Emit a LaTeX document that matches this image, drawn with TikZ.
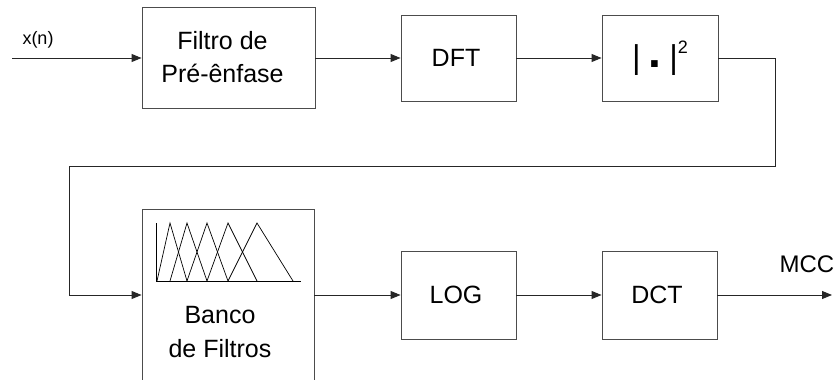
\documentclass[tikz,border=0pt]{standalone}
\usepackage{fontspec}
\setmainfont{Liberation Sans}
\usetikzlibrary{arrows.meta}
\tikzset{
  blk/.style={draw=black!70, line width=0.9pt, rectangle, inner sep=0pt, align=center, font=\fontsize{25}{33}\selectfont},
  conn/.style={draw=black!85, line width=0.9pt},
  arr/.style={conn, -{Triangle[length=10pt,width=8pt]}},
  curve/.style={draw=black, line width=0.7pt},
}
\begin{document}
\begin{tikzpicture}[x=1pt,y=-1pt]
\useasboundingbox (0,0) rectangle (839,380);
\clip (0,0) rectangle (839,380);
% blocks
\node[blk, minimum width=173pt, minimum height=101pt] (pre) at (228.5,57.5) {\hspace*{-12pt}Filtro de\\\hspace*{-12pt}Pré-ênfase};
\node[blk, minimum width=115pt, minimum height=86pt] (dft) at (458.5,58) {\hspace*{-5pt}DFT};
\node[blk, minimum width=116pt, minimum height=86pt] (sq) at (660,58) {{\fontsize{33}{33}\selectfont |\kern8pt\raisebox{1pt}{\scalebox{1.4}{\textbf{.}}}\kern8pt|}\raisebox{15pt}{\fontsize{18}{18}\selectfont 2}};
\node[blk, minimum width=172pt, minimum height=200pt] (banco) at (228,309) {};
\node[blk, minimum width=115pt, minimum height=88pt] (log) at (458.5,295) {\hspace*{-5pt}LOG};
\node[blk, minimum width=115pt, minimum height=88pt] (dct) at (659.5,295) {\hspace*{-5pt}DCT};
% banco text
\node[align=center, font=\fontsize{25}{34}\selectfont] (btext) at (220,332) {Banco\\de Filtros};
% filter bank sketch
\draw[curve] (156,223) -- (156,281) -- (301,281);
\foreach \a/\b/\c in {157/170/187, 170/187/207, 187/207/228, 207/228/257, 228/257/293} {
  \draw[curve] (\a,281) -- (\b,223) -- (\c,281);
}
% labels
\node[font=\fontsize{18}{18}\selectfont] (xn) at (38,40) {x(n)};
\node[font=\fontsize{24}{24}\selectfont] (mcc) at (807,264) {MCC};
% connectors
\coordinate (in) at (12,58);
\coordinate (out) at (832,295);
\coordinate (fbr) at (775,166);
\coordinate (fbl) at (69,166);
\draw[arr] (in) -- (pre.west |- in);
\draw[arr] (pre.east |- dft.west) -- (dft.west);
\draw[arr] (dft.east) -- (sq.west);
\draw[arr] (sq.east) -| (fbr) -- (fbl) |- (banco.west |- log.west);
\draw[arr] (banco.east |- log.west) -- (log.west);
\draw[arr] (log.east) -- (dct.west);
\draw[arr] (dct.east) -- (out);
\end{tikzpicture}
\end{document}
